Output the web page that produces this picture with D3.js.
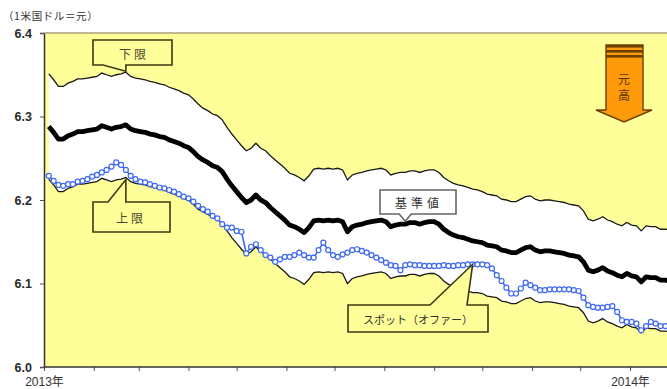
<!DOCTYPE html>
<html>
<head>
<meta charset="utf-8">
<script src="https://cdn.jsdelivr.net/npm/d3@7"></script>
<style>
  body { margin: 0; background: #fff; }
  svg { display: block; }
  text { font-family: "Noto Sans CJK JP", "Noto Sans", sans-serif; }
</style>
</head>
<body>
<svg id="chart" width="667" height="389"></svg>
<script>
// Observation dates: every third calendar day from the first 2013 fixing
const firstDay = new Date(2013, 0, 4);
const stepDays = 3;

// 基準値 (central parity), CNY per USD
const referenceRate = [
  6.288, 6.281, 6.273, 6.273, 6.277, 6.279, 6.282, 6.282, 6.283, 6.284,
  6.285, 6.289, 6.287, 6.285, 6.287, 6.288, 6.290, 6.285, 6.283, 6.282,
  6.281, 6.279, 6.278, 6.276, 6.275, 6.272, 6.270, 6.268, 6.265, 6.263,
  6.258, 6.252, 6.248, 6.245, 6.241, 6.239, 6.234, 6.225, 6.217, 6.210,
  6.203, 6.197, 6.200, 6.206, 6.200, 6.197, 6.191, 6.186, 6.181, 6.176,
  6.170, 6.168, 6.165, 6.161, 6.167, 6.175, 6.176, 6.175, 6.176, 6.175,
  6.176, 6.174, 6.162, 6.168, 6.170, 6.171, 6.173, 6.174, 6.175, 6.176,
  6.174, 6.168, 6.170, 6.171, 6.171, 6.173, 6.173, 6.171, 6.173, 6.174,
  6.174, 6.171, 6.165, 6.161, 6.158, 6.156, 6.155, 6.153, 6.151, 6.150,
  6.149, 6.146, 6.145, 6.144, 6.140, 6.139, 6.137, 6.137, 6.140, 6.143,
  6.144, 6.140, 6.138, 6.139, 6.139, 6.138, 6.137, 6.136, 6.134, 6.133,
  6.132, 6.126, 6.116, 6.114, 6.116, 6.119, 6.115, 6.113, 6.110, 6.108,
  6.112, 6.109, 6.108, 6.102, 6.108, 6.107, 6.107, 6.104, 6.104, 6.103
];

// 下限 of the yuan (weak edge of the trading band)
const bandWeak = [
  6.351, 6.344, 6.336, 6.336, 6.340, 6.342, 6.345, 6.345, 6.346, 6.347,
  6.348, 6.352, 6.350, 6.348, 6.350, 6.351, 6.353, 6.348, 6.346, 6.345,
  6.344, 6.342, 6.341, 6.339, 6.338, 6.335, 6.333, 6.331, 6.328, 6.326,
  6.321, 6.315, 6.310, 6.307, 6.303, 6.301, 6.296, 6.287, 6.279, 6.272,
  6.265, 6.259, 6.262, 6.268, 6.262, 6.259, 6.253, 6.248, 6.243, 6.238,
  6.232, 6.230, 6.227, 6.223, 6.229, 6.237, 6.238, 6.237, 6.238, 6.237,
  6.238, 6.236, 6.224, 6.230, 6.232, 6.233, 6.235, 6.236, 6.237, 6.238,
  6.236, 6.230, 6.232, 6.233, 6.233, 6.235, 6.235, 6.233, 6.235, 6.236,
  6.236, 6.233, 6.227, 6.223, 6.220, 6.218, 6.217, 6.215, 6.213, 6.212,
  6.210, 6.207, 6.206, 6.205, 6.201, 6.200, 6.198, 6.198, 6.201, 6.204,
  6.205, 6.201, 6.199, 6.200, 6.200, 6.199, 6.198, 6.197, 6.195, 6.194,
  6.193, 6.187, 6.177, 6.175, 6.177, 6.180, 6.176, 6.174, 6.171, 6.169,
  6.173, 6.170, 6.169, 6.163, 6.169, 6.168, 6.168, 6.165, 6.165, 6.164
];

// 上限 of the yuan (strong edge of the trading band)
const bandStrong = [
  6.225, 6.218, 6.210, 6.210, 6.214, 6.216, 6.219, 6.219, 6.220, 6.221,
  6.222, 6.226, 6.224, 6.222, 6.224, 6.225, 6.227, 6.222, 6.220, 6.219,
  6.218, 6.216, 6.215, 6.213, 6.212, 6.209, 6.207, 6.205, 6.202, 6.200,
  6.195, 6.189, 6.186, 6.183, 6.179, 6.177, 6.172, 6.163, 6.155, 6.148,
  6.141, 6.135, 6.138, 6.144, 6.138, 6.135, 6.129, 6.124, 6.119, 6.114,
  6.108, 6.106, 6.103, 6.099, 6.105, 6.113, 6.114, 6.113, 6.114, 6.113,
  6.114, 6.112, 6.100, 6.106, 6.108, 6.109, 6.111, 6.112, 6.113, 6.114,
  6.112, 6.106, 6.108, 6.109, 6.109, 6.111, 6.111, 6.109, 6.111, 6.112,
  6.112, 6.109, 6.103, 6.099, 6.096, 6.094, 6.093, 6.091, 6.089, 6.089,
  6.088, 6.085, 6.084, 6.083, 6.079, 6.078, 6.076, 6.076, 6.079, 6.082,
  6.083, 6.079, 6.077, 6.078, 6.078, 6.077, 6.076, 6.075, 6.073, 6.072,
  6.071, 6.065, 6.055, 6.053, 6.055, 6.058, 6.054, 6.052, 6.049, 6.047,
  6.051, 6.048, 6.047, 6.041, 6.047, 6.046, 6.046, 6.043, 6.043, 6.042
];

// スポット (offer)
const spotOffer = [
  6.229, 6.223, 6.218, 6.217, 6.219, 6.219, 6.222, 6.223, 6.225, 6.228,
  6.230, 6.233, 6.236, 6.240, 6.245, 6.242, 6.236, 6.229, 6.225, 6.222,
  6.221, 6.219, 6.217, 6.215, 6.214, 6.212, 6.210, 6.207, 6.204, 6.202,
  6.198, 6.193, 6.189, 6.186, 6.181, 6.178, 6.171, 6.167, 6.167, 6.163,
  6.162, 6.136, 6.144, 6.147, 6.140, 6.134, 6.131, 6.126, 6.129, 6.132,
  6.132, 6.134, 6.137, 6.134, 6.131, 6.131, 6.140, 6.149, 6.140, 6.134,
  6.132, 6.135, 6.137, 6.140, 6.141, 6.139, 6.137, 6.134, 6.131, 6.128,
  6.125, 6.122, 6.121, 6.116, 6.122, 6.123, 6.122, 6.122, 6.121, 6.121,
  6.121, 6.121, 6.122, 6.121, 6.121, 6.122, 6.122, 6.123, 6.123, 6.123,
  6.123, 6.122, 6.118, 6.110, 6.103, 6.095, 6.088, 6.088, 6.094, 6.101,
  6.098, 6.095, 6.092, 6.092, 6.093, 6.093, 6.093, 6.093, 6.093, 6.092,
  6.091, 6.083, 6.074, 6.072, 6.071, 6.071, 6.072, 6.073, 6.066, 6.056,
  6.054, 6.054, 6.052, 6.044, 6.049, 6.054, 6.052, 6.049, 6.049, 6.048
];

const yTicks = [6.0, 6.1, 6.2, 6.3, 6.4];
const unitLabel = "（1米国ドル＝元）";
const yearSuffix = "年";

const dates = referenceRate.map((_, i) => d3.timeDay.offset(firstDay, i * stepDays));

const plot = { left: 44, top: 33, right: 667, bottom: 367 };

const svg = d3.select("#chart");

const x = d3.scaleTime()
  .domain([new Date(2013, 0, 1), new Date(2014, 0, 1)])
  .range([44, 630]);
const y = d3.scaleLinear()
  .domain([6.0, 6.4])
  .range([plot.bottom, plot.top]);

svg.append("defs").append("clipPath").attr("id", "plotClip")
  .append("rect")
  .attr("x", plot.left).attr("y", plot.top)
  .attr("width", plot.right - plot.left).attr("height", plot.bottom - plot.top);

// plot background
svg.append("rect")
  .attr("x", plot.left).attr("y", plot.top)
  .attr("width", plot.right - plot.left).attr("height", plot.bottom - plot.top)
  .attr("fill", "#FFFF99");

const g = svg.append("g").attr("clip-path", "url(#plotClip)");

// white corridor between the band edges
const corridor = d3.area()
  .x((d, i) => x(dates[i]))
  .y0((d, i) => y(bandStrong[i]))
  .y1((d, i) => y(bandWeak[i]));
g.append("path").datum(referenceRate)
  .attr("d", corridor).attr("fill", "#ffffff");

const lineOf = arr => d3.line().x((d, i) => x(dates[i])).y(d => y(d))(arr);

g.append("path").attr("d", lineOf(bandWeak))
  .attr("fill", "none").attr("stroke", "#1a1a1a").attr("stroke-width", 1.3);
g.append("path").attr("d", lineOf(bandStrong))
  .attr("fill", "none").attr("stroke", "#1a1a1a").attr("stroke-width", 1.3);

g.append("path").attr("d", lineOf(referenceRate))
  .attr("fill", "none").attr("stroke", "#000").attr("stroke-width", 4.8)
  .attr("stroke-linejoin", "round");

const spotColor = "#3D68F2";
g.append("path").attr("d", lineOf(spotOffer))
  .attr("fill", "none").attr("stroke", spotColor).attr("stroke-width", 1.6);
g.selectAll("circle.spot").data(spotOffer).join("circle")
  .attr("class", "spot")
  .attr("cx", (d, i) => x(dates[i]))
  .attr("cy", d => y(d))
  .attr("r", 2.5)
  .attr("fill", "#fff")
  .attr("stroke", spotColor)
  .attr("stroke-width", 1.2);

// axes
const yAxis = d3.axisLeft(y).tickValues(yTicks).tickFormat(d3.format(".1f"))
  .tickSize(4).tickPadding(8);
const gy = svg.append("g").attr("transform", `translate(${plot.left},0)`).call(yAxis);
gy.select(".domain").attr("stroke", "#333").attr("stroke-width", 1.5);
gy.selectAll(".tick line").attr("stroke", "#555");
gy.selectAll(".tick text")
  .style("font-family", "'Liberation Sans', Arial, sans-serif")
  .style("font-size", "12.5px").style("font-weight", "bold").attr("fill", "#2a2a2a");

const xAxis = d3.axisBottom(x).ticks(d3.timeMonth.every(1))
  .tickFormat(d => d.getMonth() === 0 ? d.getFullYear() + yearSuffix : "")
  .tickSize(4);
const gx = svg.append("g").attr("transform", `translate(0,${plot.bottom})`).call(xAxis);
gx.select(".domain").remove();
gx.append("line").attr("x1", plot.left).attr("x2", plot.right)
  .attr("stroke", "#333").attr("stroke-width", 1.5);
gx.selectAll(".tick line").attr("stroke", "#555");
gx.selectAll(".tick text")
  .attr("y", 19).attr("dy", null)
  .style("font-family", "'Liberation Sans', 'Noto Sans CJK JP', sans-serif")
  .style("font-size", "12px").attr("fill", "#333");

// top frame edge
svg.append("line")
  .attr("x1", plot.left).attr("x2", plot.right)
  .attr("y1", plot.top).attr("y2", plot.top)
  .attr("stroke", "#A8A07A").attr("stroke-width", 1.5);

// unit label
svg.append("text").attr("x", 3).attr("y", 20)
  .style("font-size", "10.5px").style("letter-spacing", "0.6px").attr("fill", "#333")
  .text(unitLabel);

// callout boxes
function callout(points, fill, stroke) {
  svg.append("path")
    .attr("d", "M" + points.map(p => p.join(",")).join("L") + "Z")
    .attr("fill", fill).attr("stroke", stroke).attr("stroke-width", 1.6)
    .attr("stroke-linejoin", "miter");
}
function label(txt, cx, cy, size, spacing, color) {
  svg.append("text").attr("x", cx).attr("y", cy)
    .attr("text-anchor", "middle").attr("dominant-baseline", "central")
    .style("font-size", size + "px").style("letter-spacing", spacing + "px")
    .attr("fill", color).text(txt);
}

const olive = "#3b3a12";

// 下限 points at the weak band edge
{
  const i = 16, tx = x(dates[i]), ty = y(bandWeak[i]) - 1;
  callout([[93, 40], [172, 40], [172, 65], [tx, 65], [tx, ty], [103, 65], [93, 65]], "#FFFF99", olive);
  label("下限", 134, 53, 12, 3, "#4a4a30");
}
// 上限 points at the strong band edge
{
  const i = 16, tx = x(dates[i]), ty = y(bandStrong[i]) + 2;
  callout([[93, 202], [108, 202], [tx, ty], [tx, 202], [170, 202], [170, 232], [93, 232]], "#FFFF99", olive);
  label("上限", 131, 217, 12, 3, "#4a4a30");
}
// 基準値
{
  const i = 74, tx = x(dates[i]), ty = y(referenceRate[i]) - 3;
  callout([[380, 190], [456, 190], [456, 214], [tx + 6, 214], [tx, ty], [tx - 6, 214], [380, 214]], "#ffffff", "#666");
  label("基準値", 419, 202, 12, 4, "#333");
}
// スポット（オファー）
{
  const i = 88, tx = x(dates[i]), ty = y(spotOffer[i]);
  callout([[348, 305], [430, 305], [tx, ty], [467, 305], [488, 305], [488, 332], [348, 332]], "#FFFF99", olive);
  label("スポット（オファー）", 418, 319, 11, 0, "#333");
}

// 元高 direction arrow
{
  const ag = svg.append("g");
  const brown = "#6b4000";
  ag.append("path")
    .attr("d", "M606,45L643,45L643,110L652,110L624,122L596,110L606,110Z")
    .attr("fill", "#FF9A0A").attr("stroke", brown).attr("stroke-width", 1.4)
    .attr("stroke-linejoin", "miter");
  [45, 50, 55].forEach(yy => {
    ag.append("rect").attr("x", 606).attr("y", yy).attr("width", 37).attr("height", 2.6)
      .attr("fill", brown);
  });
  label("元", 624, 78, 12, 0, "#5a3000");
  label("高", 624, 94, 12, 0, "#5a3000");
}
</script>
</body>
</html>
